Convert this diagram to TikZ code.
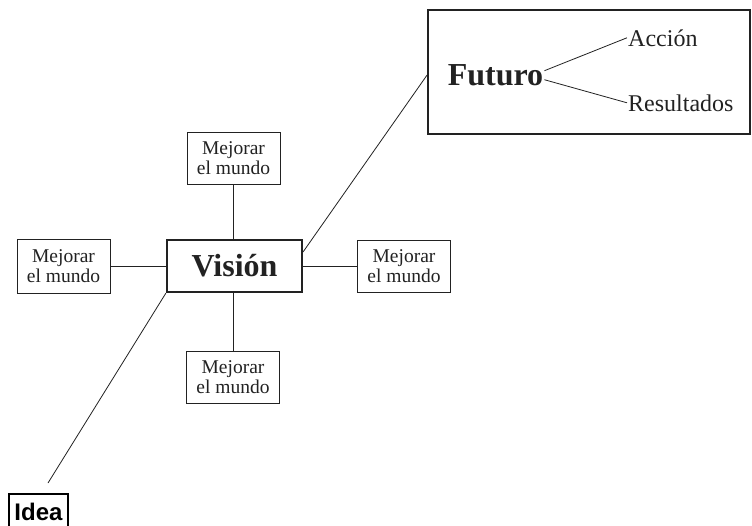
\documentclass[tikz,border=0pt]{standalone}
\usepackage{fontspec}
\setmainfont{Liberation Serif}
\newfontfamily\ideafont{Liberation Sans}
\usetikzlibrary{calc}
\definecolor{ink}{HTML}{222222}
\begin{document}
\begin{tikzpicture}[x=1pt,y=-1pt,
  smallbox/.style={draw=ink,line width=0.8pt,minimum width=93pt,minimum height=52pt,inner sep=0pt,align=center,text=ink,font=\fontsize{19.5}{20}\selectfont},
  visbox/.style={draw=ink,line width=2.2pt,minimum width=135pt,minimum height=52pt,inner sep=0pt,text=ink,font=\fontsize{32}{34}\selectfont\bfseries},
  futframe/.style={draw=ink,line width=1.8pt,minimum width=322pt,minimum height=124pt,inner sep=0pt},
  label/.style={inner sep=1pt,text=ink,font=\fontsize{24}{26}\selectfont},
  conn/.style={draw=ink,line width=0.8pt}]
\useasboundingbox (0,0) rectangle (752,525);
\fill[white] (0,0) rectangle (752,525);

% Futuro frame
\node[futframe] (futbox) at (589,72) {};
\node[inner sep=1pt,text=ink,font=\fontsize{32}{34}\selectfont\bfseries,anchor=base] (fut) at (495.5,85) {Futuro};
\node[label,anchor=base west] (acc) at (627,46) {Acción};
\node[label,anchor=base west] (res) at (627,111) {Resultados};
\draw[conn] ($(fut.east)+(0,-4)$) -- (acc.west);
\draw[conn] ($(fut.east)+(0,5)$) -- (res.west);

% Vision and satellites
\node[visbox] (vis) at (234.5,266) {Visión};
\node[smallbox] (top) at (233.5,158) {Mejorar\\el mundo};
\node[smallbox] (right) at (404,266) {Mejorar\\el mundo};
\node[smallbox] (bottom) at (233,377) {Mejorar\\el mundo};
\node[smallbox,minimum height=54pt] (left) at (63.5,266) {Mejorar\\el mundo};

\draw[conn] (top.south) -- (vis.north -| top.south);
\draw[conn] (bottom.north) -- (vis.south -| bottom.north);
\draw[conn] (left.east) -- (vis.west);
\draw[conn] (vis.east) -- (right.west);
\draw[conn] ($(vis.north east)+(0,13)$) -- ($(futbox.west)+(0,3)$);

% Idea
\node[draw=black,line width=1.2pt,minimum width=59pt,minimum height=36pt,inner sep=0pt,font=\ideafont\bfseries\fontsize{24}{26}\selectfont] (idea) at (38.5,512) {Idea};
\coordinate (ideaend) at (48,483);
\draw[conn] (vis.south west) -- (ideaend);
\end{tikzpicture}
\end{document}
